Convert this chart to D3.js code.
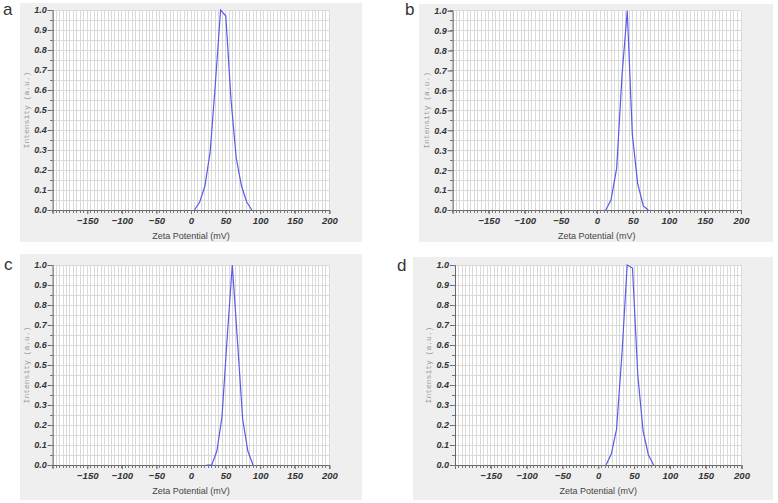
<!DOCTYPE html>
<html><head><meta charset="utf-8">
<script src="https://cdn.jsdelivr.net/npm/d3@7"></script>
<style>
body{margin:0;background:#fff;}
svg{display:block;}
</style></head>
<body>
<svg id="chart" width="778" height="503"></svg>
<script>
// ---- data ----
const panelLetters = ["a", "b", "c", "d"];
const zetaA = [5, 12.6, 20.1, 27.7, 35.2, 42.8, 50.3, 57.9, 65.4, 73, 80.5, 88.1];
const intensityA = [0, 0.04, 0.12, 0.29, 0.63, 1.0, 0.97, 0.55, 0.26, 0.12, 0.04, 0.0];
const zetaB = [12.3, 19.6, 27.5, 35, 42.2, 49.2, 56.6, 64.4, 71.4];
const intensityB = [0, 0.05, 0.21, 0.68, 1.0, 0.38, 0.134, 0.02, 0.0];
const zetaC = [22.6, 30, 37.4, 44.8, 52.2, 59.7, 67.2, 74.7, 82.2, 89.7];
const intensityC = [0, 0, 0.07, 0.24, 0.63, 1.0, 0.62, 0.23, 0.07, 0];
const zetaD = [10.8, 18.2, 25.6, 33, 40.4, 47.8, 55.2, 62.6, 70, 77.4];
const intensityD = [0, 0.055, 0.18, 0.55, 1.0, 0.985, 0.45, 0.17, 0.05, 0];
const xTickLabels = [-150, -100, -50, 0, 50, 100, 150, 200];
const yTickLabels = [0, 0.1, 0.2, 0.3, 0.4, 0.5, 0.6, 0.7, 0.8, 0.9, 1.0];
const xLabel = "Zeta Potential (mV)";
const yLabel = "Intensity (a.u.)";

// ---- layout ----
const layouts = [
  {box:[20,3,362,242],  px:[52.7,329.3], py:[10,210],    letter:[3,15]},
  {box:[419,4,773,242], px:[452.7,741],  py:[10.7,210],  letter:[405,15]},
  {box:[20,254,362,500],px:[52.7,329.3], py:[265,465],   letter:[4,270]},
  {box:[413,257,773,500],px:[455,741.5], py:[265,465],   letter:[397,271]}
];
const series = [[zetaA,intensityA],[zetaB,intensityB],[zetaC,intensityC],[zetaD,intensityD]];

const svg = d3.select("#chart");

layouts.forEach((L, i) => {
  const g = svg.append("g");
  const [bx0,by0,bx1,by1] = L.box;
  g.append("rect").attr("x",bx0).attr("y",by0).attr("width",bx1-bx0).attr("height",by1-by0)
    .attr("fill","#efefef");
  const x = d3.scaleLinear().domain([-200,200]).range(L.px);
  const y = d3.scaleLinear().domain([0,1]).range([L.py[1], L.py[0]]);
  g.append("rect").attr("x",L.px[0]).attr("y",L.py[0]).attr("width",L.px[1]-L.px[0]).attr("height",L.py[1]-L.py[0])
    .attr("fill","#fff");
  // grid
  const xMinor = d3.range(-200, 200.01, 5);
  const yMinor = d3.range(0, 1.0001, 0.05);
  g.append("g").selectAll("line").data(xMinor).join("line")
    .attr("x1",d=>x(d)).attr("x2",d=>x(d)).attr("y1",L.py[0]).attr("y2",L.py[1])
    .attr("stroke","#d9d9d9").attr("stroke-width",1).attr("shape-rendering","crispEdges");
  g.append("g").selectAll("line").data(yMinor).join("line")
    .attr("x1",L.px[0]).attr("x2",L.px[1]).attr("y1",d=>y(d)).attr("y2",d=>y(d))
    .attr("stroke","#d9d9d9").attr("stroke-width",1).attr("shape-rendering","crispEdges");

  // bottom axis
  const xAxis = d3.axisBottom(x).tickValues(xTickLabels).tickSize(4).tickPadding(3)
    .tickFormat(d3.format("d"));
  const xa = g.append("g").attr("transform",`translate(0,${L.py[1]})`).call(xAxis);
  xa.select(".domain").attr("stroke","#666");
  xa.selectAll(".tick line").attr("stroke","#666");
  xa.selectAll("text").attr("font-family","'Liberation Sans', Arial, sans-serif")
    .attr("font-size","9.5px").attr("font-weight","bold").attr("font-style","italic").attr("fill","#333");
  g.append("g").selectAll("line").data(xMinor).join("line")
    .attr("x1",d=>x(d)).attr("x2",d=>x(d)).attr("y1",L.py[1]).attr("y2",L.py[1]+3)
    .attr("stroke","#777").attr("shape-rendering","crispEdges");

  // left axis
  const yAxis = d3.axisLeft(y).tickValues(yTickLabels).tickSize(5).tickPadding(1)
    .tickFormat(d3.format(".1f"));
  const ya = g.append("g").attr("transform",`translate(${L.px[0]},0)`).call(yAxis);
  ya.select(".domain").attr("stroke","#666");
  ya.selectAll(".tick line").attr("stroke","#666");
  ya.selectAll("text").attr("font-family","'Liberation Sans', Arial, sans-serif")
    .attr("font-size","9px").attr("font-weight","bold").attr("font-style","italic").attr("fill","#333");
  g.append("g").selectAll("line").data(yMinor).join("line")
    .attr("x1",L.px[0]-3).attr("x2",L.px[0]).attr("y1",d=>y(d)).attr("y2",d=>y(d))
    .attr("stroke","#777").attr("shape-rendering","crispEdges");

  // data line
  const [xs, ys] = series[i];
  const pts = xs.map((v,k)=>[v, ys[k]]);
  g.append("path").datum(pts)
    .attr("d", d3.line().x(d=>x(d[0])).y(d=>y(d[1])))
    .attr("fill","none").attr("stroke","#5a5ae6").attr("stroke-width",1.2);

  // axis titles
  g.append("text").attr("x",(L.px[0]+L.px[1])/2).attr("y",L.py[1]+29)
    .attr("text-anchor","middle").attr("font-family","'Liberation Sans', Arial, sans-serif")
    .attr("font-size","9px").attr("fill","#444").text(xLabel);
  const cy = (L.py[0]+L.py[1])/2;
  g.append("text").attr("transform",`translate(${L.px[0]-24},${cy}) rotate(-90)`)
    .attr("text-anchor","middle").attr("font-family","'Liberation Mono', 'DejaVu Sans Mono', monospace")
    .attr("font-size","8px").attr("fill","#999").text(yLabel);

  // panel letter
  svg.append("text").attr("x",L.letter[0]).attr("y",L.letter[1])
    .attr("font-family","'Liberation Sans', Arial, sans-serif").attr("font-size","17px")
    .attr("fill","#333").text(panelLetters[i]);
});
</script>
</body></html>
